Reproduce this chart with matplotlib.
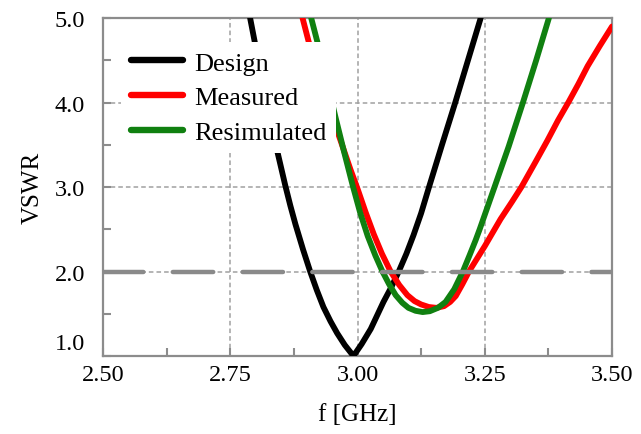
import matplotlib
matplotlib.use("Agg")
import matplotlib.pyplot as plt
import matplotlib.transforms as mtransforms

plt.rcParams['font.family'] = ['Liberation Serif', 'DejaVu Serif']

# VSWR curves read as (frequency GHz, VSWR) pairs
design_f = [2.789, 2.798, 2.815, 2.830, 2.8425, 2.858, 2.868, 2.878, 2.893, 2.907, 2.920,
            2.933, 2.947, 2.960, 2.975, 2.992,
            3.008, 3.026, 3.051, 3.066, 3.081, 3.096, 3.110, 3.125, 3.140, 3.166, 3.192,
            3.217, 3.242]
design_v = [5.00, 4.72, 4.21, 3.77, 3.42, 3.02, 2.78, 2.56, 2.26, 2.00, 1.78,
            1.58, 1.41, 1.27, 1.13, 1.00,
            1.14, 1.32, 1.64, 1.81, 2.00, 2.21, 2.43, 2.69, 2.99, 3.50, 4.00,
            4.50, 5.00]

measured_f = [2.892, 2.904, 2.930, 2.957, 2.986, 3.000, 3.016, 3.032, 3.048, 3.065, 3.082,
              3.098, 3.112, 3.125, 3.140, 3.155, 3.170, 3.182, 3.193, 3.206, 3.219, 3.250,
              3.281, 3.304, 3.322, 3.350, 3.373, 3.394, 3.415, 3.434, 3.452, 3.476, 3.500]
measured_v = [5.00, 4.72, 4.23, 3.72, 3.21, 2.98, 2.70, 2.44, 2.21, 2.00, 1.84,
              1.72, 1.65, 1.61, 1.58, 1.57, 1.59, 1.64, 1.71, 1.85, 2.00, 2.30,
              2.62, 2.83, 3.00, 3.30, 3.55, 3.79, 4.01, 4.22, 4.43, 4.67, 4.90]

resim_f = [2.909, 2.921, 2.940, 2.957, 2.973, 2.990, 3.005, 3.020, 3.035, 3.049, 3.062,
           3.075, 3.088, 3.100, 3.114, 3.128, 3.142, 3.158, 3.173, 3.190, 3.207, 3.220,
           3.232, 3.240, 3.268, 3.297, 3.325, 3.351, 3.376]
resim_v = [5.00, 4.72, 4.25, 3.82, 3.43, 3.03, 2.70, 2.42, 2.19, 2.00, 1.85,
           1.72, 1.63, 1.57, 1.535, 1.52, 1.53, 1.57, 1.64, 1.79, 2.00, 2.19,
           2.37, 2.50, 2.98, 3.48, 4.00, 4.50, 5.00]

limit_f = [2.50, 3.50]
limit_v = [2.0, 2.0]

xticks = [2.50, 2.75, 3.00, 3.25, 3.50]
yticks = [1.0, 2.0, 3.0, 4.0, 5.0]

fig = plt.figure(figsize=(6.41, 4.35), dpi=100)
ax = fig.add_axes([0.1607, 0.1793, 0.7941, 0.7770])

axis_gray = '#8c8c8c'
lw = 4.2

ax.plot(design_f, design_v, color='black', lw=lw, label='Design',
        solid_capstyle='round', solid_joinstyle='round', zorder=3)
ax.plot(measured_f, measured_v, color='#ff0000', lw=lw, label='Measured',
        solid_capstyle='round', solid_joinstyle='round', zorder=3)
ax.plot(resim_f, resim_v, color='#108010', lw=lw, label='Resimulated',
        solid_capstyle='round', solid_joinstyle='round', zorder=4)
ax.plot(limit_f, limit_v, color='#8a8a8a', lw=3.2, dashes=(9.1, 6.6),
        dash_capstyle='round', zorder=5)

ax.set_xlim(2.5, 3.5)
ax.set_ylim(1.0, 5.0)
ax.set_xticks(xticks)
ax.set_xticklabels([f"{t:.2f}" for t in xticks])
ax.set_yticks(yticks)
ax.set_yticklabels([f"{t:.1f}" for t in yticks])
ax.set_xticks([2.625, 2.875, 3.125, 3.375], minor=True)
ax.set_yticks([1.5, 2.5, 3.5, 4.5], minor=True)

ax.grid(True, which='major', color='#a0a0a0', lw=1.1, ls=(0, (3, 2)), zorder=1)
ax.tick_params(which='both', direction='in', color=axis_gray, width=1.5,
               labelsize=17.5, top=False, right=False, length=6)
ax.tick_params(axis='y', pad=13)
ax.tick_params(axis='x', pad=6)
for sp in ax.spines.values():
    sp.set_color(axis_gray)
    sp.set_linewidth(1.6)

# lift the bottom y label off the x axis
lab = ax.get_yticklabels()[0]
lab.set_transform(lab.get_transform() + mtransforms.ScaledTranslation(0, 11 / 72, fig.dpi_scale_trans))

ax.set_xlabel('f [GHz]', fontsize=18, labelpad=13)
ax.set_ylabel('VSWR', fontsize=18, labelpad=8)

leg = ax.legend(loc='upper left', bbox_to_anchor=(0.036, 0.929), borderaxespad=0,
                fontsize=19, frameon=True, facecolor='white', edgecolor='none',
                framealpha=1, fancybox=False, borderpad=0.35, handlelength=2.0,
                handletextpad=0.4, labelspacing=0.42)
leg.set_zorder(10)
for h in leg.get_lines():
    h.set_linewidth(4.6)
    h.set_solid_capstyle('round')

fig.savefig('out.png', dpi=100)
